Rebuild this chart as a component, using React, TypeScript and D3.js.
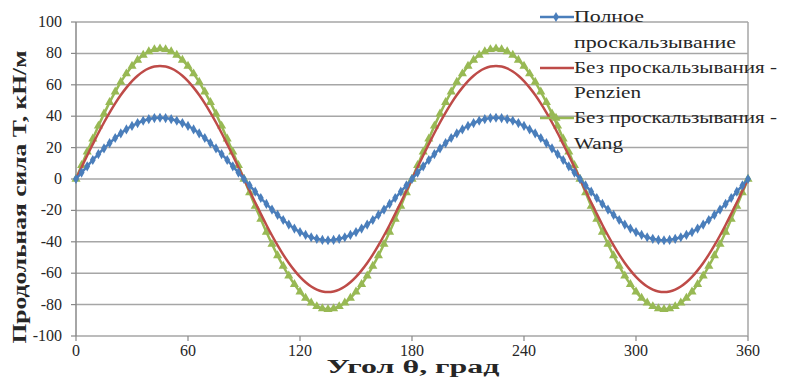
import React from "react";
import * as d3 from "d3";

const angles = [
  0, 3, 6, 9, 12, 15, 18, 21, 24, 27, 30, 33, 36, 39, 42, 45, 48, 51, 54, 57, 60, 63, 66, 69, 72, 75, 78, 81, 84, 87,
  90, 93, 96, 99, 102, 105, 108, 111, 114, 117, 120, 123, 126, 129, 132, 135, 138, 141, 144, 147, 150, 153, 156, 159, 162, 165, 168, 171, 174, 177,
  180, 183, 186, 189, 192, 195, 198, 201, 204, 207, 210, 213, 216, 219, 222, 225, 228, 231, 234, 237, 240, 243, 246, 249, 252, 255, 258, 261, 264, 267,
  270, 273, 276, 279, 282, 285, 288, 291, 294, 297, 300, 303, 306, 309, 312, 315, 318, 321, 324, 327, 330, 333, 336, 339, 342, 345, 348, 351, 354, 357,
  360,
];

const fullSlip = [
  0, 4.1, 8.1, 12.1, 15.9, 19.5, 22.9, 26.1, 29.0, 31.6, 33.8, 35.6, 37.1, 38.1, 38.8, 39.0, 38.8, 38.1, 37.1, 35.6, 33.8, 31.6, 29.0, 26.1, 22.9, 19.5, 15.9, 12.1, 8.1, 4.1,
  0, -4.1, -8.1, -12.1, -15.9, -19.5, -22.9, -26.1, -29.0, -31.6, -33.8, -35.6, -37.1, -38.1, -38.8, -39.0, -38.8, -38.1, -37.1, -35.6, -33.8, -31.6, -29.0, -26.1, -22.9, -19.5, -15.9, -12.1, -8.1, -4.1,
  0, 4.1, 8.1, 12.1, 15.9, 19.5, 22.9, 26.1, 29.0, 31.6, 33.8, 35.6, 37.1, 38.1, 38.8, 39.0, 38.8, 38.1, 37.1, 35.6, 33.8, 31.6, 29.0, 26.1, 22.9, 19.5, 15.9, 12.1, 8.1, 4.1,
  0, -4.1, -8.1, -12.1, -15.9, -19.5, -22.9, -26.1, -29.0, -31.6, -33.8, -35.6, -37.1, -38.1, -38.8, -39.0, -38.8, -38.1, -37.1, -35.6, -33.8, -31.6, -29.0, -26.1, -22.9, -19.5, -15.9, -12.1, -8.1, -4.1,
  0,
];

const penzien = [
  0, 7.5, 15.0, 22.2, 29.3, 36.0, 42.3, 48.2, 53.5, 58.2, 62.4, 65.8, 68.5, 70.4, 71.6, 72.0, 71.6, 70.4, 68.5, 65.8, 62.4, 58.2, 53.5, 48.2, 42.3, 36.0, 29.3, 22.2, 15.0, 7.5,
  0, -7.5, -15.0, -22.2, -29.3, -36.0, -42.3, -48.2, -53.5, -58.2, -62.4, -65.8, -68.5, -70.4, -71.6, -72.0, -71.6, -70.4, -68.5, -65.8, -62.4, -58.2, -53.5, -48.2, -42.3, -36.0, -29.3, -22.2, -15.0, -7.5,
  0, 7.5, 15.0, 22.2, 29.3, 36.0, 42.3, 48.2, 53.5, 58.2, 62.4, 65.8, 68.5, 70.4, 71.6, 72.0, 71.6, 70.4, 68.5, 65.8, 62.4, 58.2, 53.5, 48.2, 42.3, 36.0, 29.3, 22.2, 15.0, 7.5,
  0, -7.5, -15.0, -22.2, -29.3, -36.0, -42.3, -48.2, -53.5, -58.2, -62.4, -65.8, -68.5, -70.4, -71.6, -72.0, -71.6, -70.4, -68.5, -65.8, -62.4, -58.2, -53.5, -48.2, -42.3, -36.0, -29.3, -22.2, -15.0, -7.5,
  0,
];

const wang = [
  0, 8.7, 17.3, 25.6, 33.8, 41.5, 48.8, 55.5, 61.7, 67.1, 71.9, 75.8, 78.9, 81.2, 82.5, 83.0, 82.5, 81.2, 78.9, 75.8, 71.9, 67.1, 61.7, 55.5, 48.8, 41.5, 33.8, 25.6, 17.3, 8.7,
  0, -8.7, -17.3, -25.6, -33.8, -41.5, -48.8, -55.5, -61.7, -67.1, -71.9, -75.8, -78.9, -81.2, -82.5, -83.0, -82.5, -81.2, -78.9, -75.8, -71.9, -67.1, -61.7, -55.5, -48.8, -41.5, -33.8, -25.6, -17.3, -8.7,
  0, 8.7, 17.3, 25.6, 33.8, 41.5, 48.8, 55.5, 61.7, 67.1, 71.9, 75.8, 78.9, 81.2, 82.5, 83.0, 82.5, 81.2, 78.9, 75.8, 71.9, 67.1, 61.7, 55.5, 48.8, 41.5, 33.8, 25.6, 17.3, 8.7,
  0, -8.7, -17.3, -25.6, -33.8, -41.5, -48.8, -55.5, -61.7, -67.1, -71.9, -75.8, -78.9, -81.2, -82.5, -83.0, -82.5, -81.2, -78.9, -75.8, -71.9, -67.1, -61.7, -55.5, -48.8, -41.5, -33.8, -25.6, -17.3, -8.7,
  0,
];

const xTicks = [0, 60, 120, 180, 240, 300, 360];
const yTicks = [-100, -80, -60, -40, -20, 0, 20, 40, 60, 80, 100];

const legendLines = [
  { text: "Полное", len: 70 },
  { text: "проскальзывание", len: 162 },
  { text: "Без проскальзывания  -", len: 203 },
  { text: "Penzien", len: 67 },
  { text: "Без проскальзывания  -", len: 203 },
  { text: "Wang", len: 49 },
];

const BLUE = "#4A7EBB";
const RED = "#BE4B48";
const GREEN = "#98B954";
const GRID = "#A6A6A6";
const TEXT = "#262626";
const FONT = '"Liberation Serif", "Times New Roman", Times, "DejaVu Serif", serif';

export default function App() {
  const W = 792;
  const H = 378;
  const x = d3.scaleLinear().domain([0, 360]).range([76, 748]);
  const y = d3.scaleLinear().domain([-100, 100]).range([336, 22]);

  const pts = (vals: number[]) => angles.map((a, i) => [x(a), y(vals[i])] as [number, number]);
  const line = d3.line().curve(d3.curveMonotoneX);
  const diamond = d3.symbol().type(d3.symbolDiamond).size(30)();
  const tri = d3.symbol().type(d3.symbolTriangle).size(36)();

  const legendY = [17, 43, 68, 93, 118, 144];
  const ts = { fontFamily: FONT };

  return (
    <svg
      width={W}
      height={H}
      style={{ position: "absolute", left: 0, top: 0, background: "#fff", fontFamily: FONT }}
    >
      <rect x={0} y={0} width={W} height={H} fill="#fff" />
      {yTicks.map((t) => (
        <line key={"g" + t} x1={x(0)} x2={x(360)} y1={y(t)} y2={y(t)} stroke={GRID} strokeWidth={1.5} />
      ))}
      <line x1={x(360)} x2={x(360)} y1={y(100)} y2={y(-100)} stroke={GRID} strokeWidth={1.5} />
      <line x1={x(0)} x2={x(0)} y1={y(100)} y2={y(-100)} stroke="#888" strokeWidth={1.5} />
      {yTicks.map((t) => (
        <line key={"yt" + t} x1={x(0) - 5} x2={x(0)} y1={y(t)} y2={y(t)} stroke="#888" strokeWidth={1.2} />
      ))}
      {xTicks.map((t) => (
        <line key={"xt" + t} x1={x(t)} x2={x(t)} y1={y(-100)} y2={y(-100) + 5} stroke="#888" strokeWidth={1.2} />
      ))}
      {yTicks.map((t) => (
        <text key={"yl" + t} x={62} y={y(t) + 5} textAnchor="end" fontSize={16} fill={TEXT} style={ts}>
          {t}
        </text>
      ))}
      {xTicks.map((t) => (
        <text key={"xl" + t} x={x(t)} y={356} textAnchor="middle" fontSize={16} fill={TEXT} style={ts}>
          {t}
        </text>
      ))}
      <path d={line(pts(wang)) || ""} fill="none" stroke={GREEN} strokeWidth={2.5} />
      {pts(wang).map((p, i) => (
        <path key={"w" + i} d={tri || ""} transform={`translate(${p[0]},${p[1]})`} fill={GREEN} />
      ))}
      <path d={line(pts(penzien)) || ""} fill="none" stroke={RED} strokeWidth={2.5} />
      <path d={line(pts(fullSlip)) || ""} fill="none" stroke={BLUE} strokeWidth={2.5} />
      {pts(fullSlip).map((p, i) => (
        <path key={"b" + i} d={diamond || ""} transform={`translate(${p[0]},${p[1]})`} fill={BLUE} />
      ))}
      <line x1={540} x2={574} y1={legendY[0]} y2={legendY[0]} stroke={BLUE} strokeWidth={2.5} />
      <path d={diamond || ""} transform={`translate(556,${legendY[0]})`} fill={BLUE} />
      <line x1={540} x2={574} y1={legendY[2]} y2={legendY[2]} stroke={RED} strokeWidth={2.5} />
      <line x1={540} x2={574} y1={legendY[4]} y2={legendY[4]} stroke={GREEN} strokeWidth={2.5} />
      <path d={tri || ""} transform={`translate(556,${legendY[4]})`} fill={GREEN} />
      {legendLines.map((l, i) => (
        <text
          key={"lg" + i}
          x={574}
          y={legendY[i] + 5}
          fontSize={17}
          fill={TEXT}
          style={ts}
          textLength={l.len}
          lengthAdjust="spacingAndGlyphs"
        >
          {l.text}
        </text>
      ))}
      <text
        x={413}
        y={373}
        textAnchor="middle"
        fontSize={18}
        fontWeight="bold"
        fill={TEXT}
        style={ts}
        textLength={173}
        lengthAdjust="spacingAndGlyphs"
      >
        Угол θ, град
      </text>
      <text
        transform="translate(26,197) rotate(-90)"
        textAnchor="middle"
        fontSize={19}
        fontWeight="bold"
        fill={TEXT}
        style={ts}
        textLength={293}
        lengthAdjust="spacingAndGlyphs"
      >
        Продольная сила T, кН/м
      </text>
    </svg>
  );
}
